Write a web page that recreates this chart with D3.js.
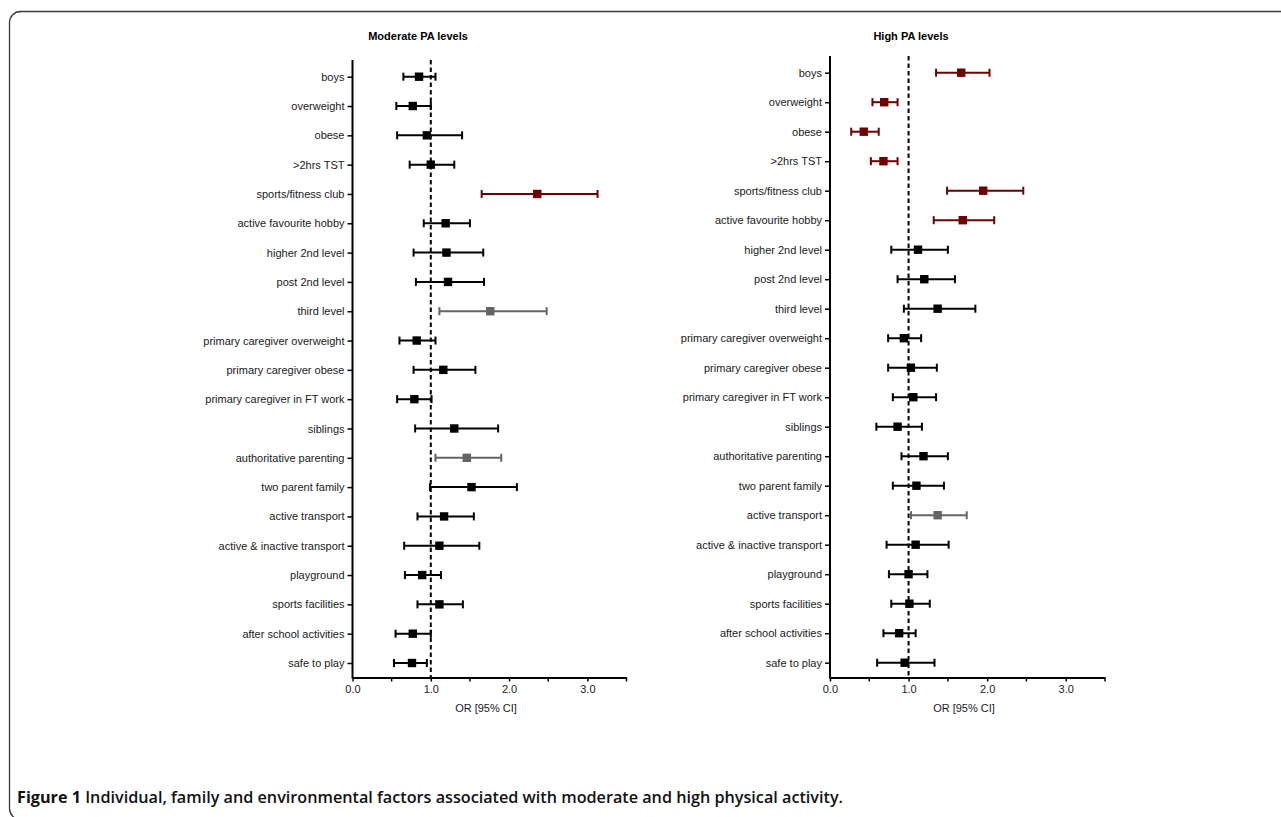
<!DOCTYPE html>
<html>
<head>
<meta charset="utf-8">
<script src="https://cdn.jsdelivr.net/npm/d3@7"></script>
<style>
  body { margin: 0; background: #fff; }
  svg text { font-family: "Liberation Sans", Arial, sans-serif; }
  svg text.caption { font-family: "Open Sans", "Noto Sans", sans-serif; }
</style>
</head>
<body>
<svg id="chart"></svg>
<script>
const factors = [
  "boys", "overweight", "obese", ">2hrs TST", "sports/fitness club",
  "active favourite hobby", "higher 2nd level", "post 2nd level", "third level",
  "primary caregiver overweight", "primary caregiver obese", "primary caregiver in FT work",
  "siblings", "authoritative parenting", "two parent family", "active transport",
  "active & inactive transport", "playground", "sports facilities",
  "after school activities", "safe to play"
];

// moderate PA levels
const modOR = [0.85, 0.77, 0.95, 1.00, 2.36, 1.19, 1.20, 1.22, 1.76, 0.82, 1.16, 0.79, 1.30, 1.46, 1.52, 1.17, 1.11, 0.89, 1.11, 0.77, 0.76];
const modLo = [0.65, 0.56, 0.57, 0.73, 1.65, 0.91, 0.78, 0.81, 1.11, 0.60, 0.78, 0.57, 0.80, 1.06, 0.99, 0.83, 0.66, 0.67, 0.83, 0.55, 0.53];
const modHi = [1.06, 1.00, 1.40, 1.30, 3.13, 1.50, 1.67, 1.68, 2.48, 1.06, 1.57, 1.01, 1.86, 1.90, 2.10, 1.55, 1.62, 1.13, 1.41, 1.00, 0.95];
const modSig = ["n", "n", "n", "n", "r", "n", "n", "n", "g", "n", "n", "n", "n", "g", "n", "n", "n", "n", "n", "n", "n"];

// high PA levels
const highOR = [1.67, 0.69, 0.43, 0.68, 1.95, 1.69, 1.12, 1.20, 1.37, 0.94, 1.03, 1.06, 0.86, 1.19, 1.10, 1.37, 1.09, 1.00, 1.01, 0.88, 0.95];
const highLo = [1.35, 0.54, 0.27, 0.52, 1.49, 1.32, 0.78, 0.86, 0.94, 0.74, 0.74, 0.80, 0.59, 0.91, 0.80, 1.03, 0.72, 0.75, 0.78, 0.68, 0.60];
const highHi = [2.03, 0.86, 0.62, 0.86, 2.46, 2.09, 1.50, 1.59, 1.85, 1.16, 1.36, 1.35, 1.17, 1.50, 1.45, 1.74, 1.51, 1.24, 1.27, 1.09, 1.33];
const highSig = ["r", "r", "r", "r", "r", "r", "n", "n", "n", "n", "n", "n", "n", "n", "n", "g", "n", "n", "n", "n", "n"];

const xTicks = [0, 1, 2, 3];
const colours = { n: "#000000", r: "#6e0000", g: "#646464" };

const W = 1281, H = 817;
const svg = d3.select("#chart").attr("width", W).attr("height", H);

// frame
svg.append("rect")
  .attr("x", 9.5).attr("y", 11.5)
  .attr("width", 1320).attr("height", 808)
  .attr("rx", 11)
  .attr("fill", "none")
  .attr("stroke", "#3a3a3a")
  .attr("stroke-width", 1.3);

function panel(cfg) {
  const g = svg.append("g");
  const x = d3.scaleLinear().domain([0, 3.5]).range([cfg.x0, cfg.x1]);
  const y = d3.scalePoint().domain(factors).range([cfg.rowTop, cfg.rowBot]);

  const rows = factors.map((f, i) => ({ f, or: cfg.or[i], lo: cfg.lo[i], hi: cfg.hi[i], c: colours[cfg.sig[i]] }));

  // y axis
  const yAxis = g.append("g")
    .attr("transform", `translate(${cfg.x0},0)`)
    .call(d3.axisLeft(y).tickSize(5).tickPadding(3));
  yAxis.select(".domain").remove();
  yAxis.selectAll("line").attr("stroke", "#000").attr("stroke-width", 1.5);
  yAxis.selectAll("text").attr("font-size", 11).attr("fill", "#1a1a1a");
  g.append("line")
    .attr("x1", cfg.x0).attr("x2", cfg.x0)
    .attr("y1", cfg.axTop).attr("y2", cfg.axBot + 1)
    .attr("stroke", "#000").attr("stroke-width", 2);

  // x axis
  const xAxis = g.append("g")
    .attr("transform", `translate(0,${cfg.axBot})`)
    .call(d3.axisBottom(x).tickValues(xTicks).tickFormat(d3.format(".1f")).tickSize(4).tickPadding(4).tickSizeOuter(0));
  xAxis.select(".domain").attr("stroke-width", 2);
  xAxis.selectAll("line").attr("stroke-width", 1.5);
  xAxis.selectAll("text").attr("font-size", 11).attr("fill", "#1a1a1a");
  xAxis.selectAll(".minor")
    .data([0.5, 1.5, 2.5, 3.5])
    .enter().append("line")
    .attr("class", "minor")
    .attr("x1", d => x(d)).attr("x2", d => x(d))
    .attr("y1", 0).attr("y2", 4)
    .attr("stroke", "#000").attr("stroke-width", 1.5);

  g.append("text")
    .attr("x", cfg.titleX).attr("y", 712)
    .attr("text-anchor", "middle")
    .attr("font-size", 11).attr("fill", "#1a1a1a")
    .text("OR [95% CI]");

  g.append("text")
    .attr("x", cfg.headX).attr("y", 40)
    .attr("text-anchor", "middle")
    .attr("font-size", 11).attr("font-weight", "bold")
    .text(cfg.title);

  // reference line at OR = 1
  g.append("line")
    .attr("x1", x(1)).attr("x2", x(1))
    .attr("y1", cfg.axTop).attr("y2", cfg.axBot)
    .attr("stroke", "#000").attr("stroke-width", 2)
    .attr("stroke-dasharray", "4.5,3");

  const row = g.selectAll(".row").data(rows).enter().append("g").attr("class", "row");
  row.append("line")
    .attr("x1", d => x(d.lo)).attr("x2", d => x(d.hi))
    .attr("y1", d => y(d.f)).attr("y2", d => y(d.f))
    .attr("stroke", d => d.c).attr("stroke-width", 2);
  ["lo", "hi"].forEach(k => {
    row.append("line")
      .attr("x1", d => x(d[k])).attr("x2", d => x(d[k]))
      .attr("y1", d => y(d.f) - 4).attr("y2", d => y(d.f) + 4)
      .attr("stroke", d => d.c).attr("stroke-width", 2);
  });
  row.append("rect")
    .attr("x", d => x(d.or) - 4.2).attr("y", d => y(d.f) - 4.2)
    .attr("width", 8.4).attr("height", 8.4)
    .attr("fill", d => d.c);
}

panel({
  x0: 352.5, x1: 626.5, rowTop: 76.7, rowBot: 663, axTop: 60, axBot: 677.5,
  or: modOR, lo: modLo, hi: modHi, sig: modSig,
  title: "Moderate PA levels", headX: 418, titleX: 486
});
panel({
  x0: 830, x1: 1105, rowTop: 72.7, rowBot: 662.7, axTop: 56, axBot: 677.5,
  or: highOR, lo: highLo, hi: highHi, sig: highSig,
  title: "High PA levels", headX: 911, titleX: 964
});

// caption
const cap = svg.append("text")
  .attr("class", "caption")
  .attr("x", 17).attr("y", 803)
  .attr("font-size", 16)
  .attr("fill", "#111");
cap.append("tspan").attr("font-weight", "bold").text("Figure 1");
cap.append("tspan").attr("font-weight", 600).text(" Individual, family and environmental factors associated with moderate and high physical activity.");
cap.attr("textLength", 826).attr("lengthAdjust", "spacingAndGlyphs");
</script>
</body>
</html>
